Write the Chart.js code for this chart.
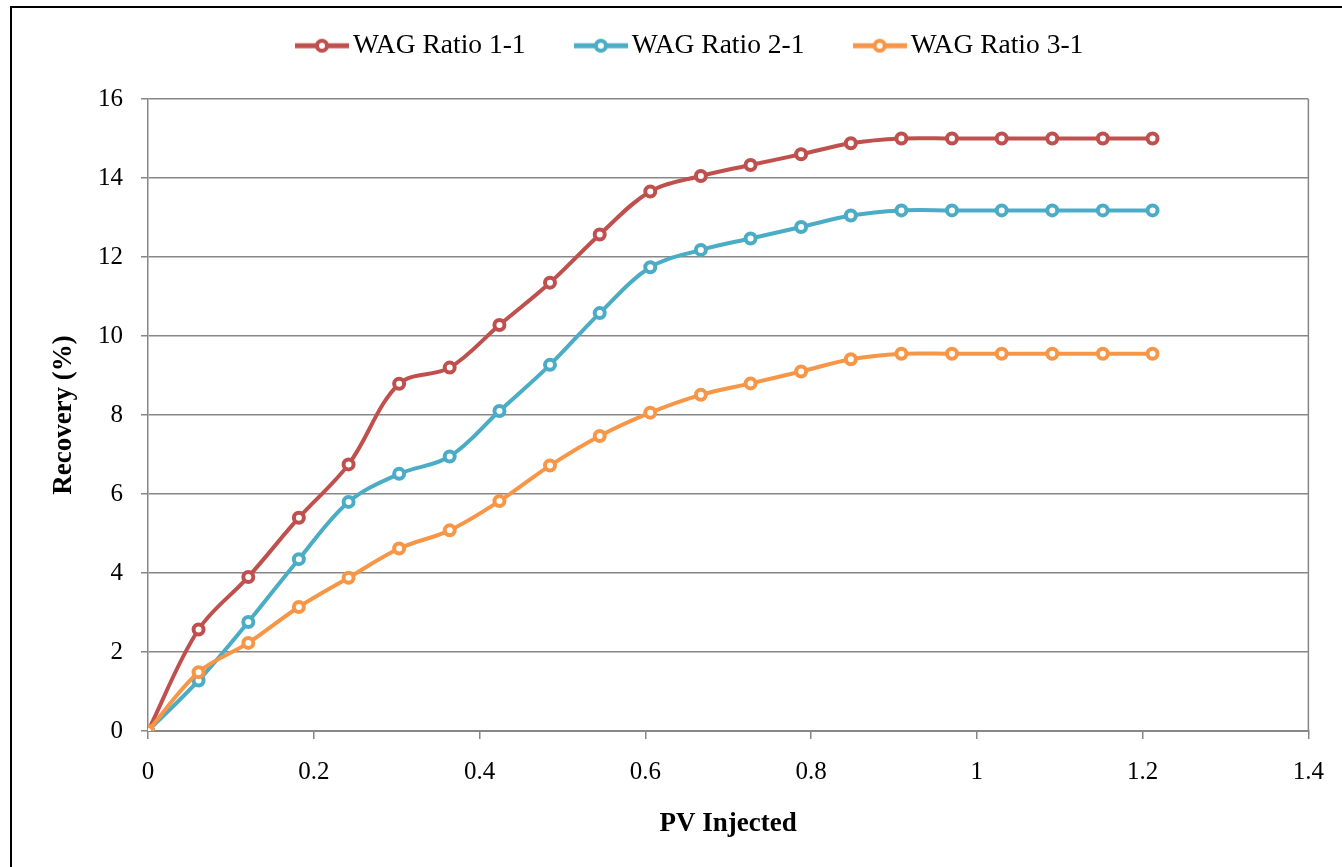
<!DOCTYPE html>
<html>
<head>
<meta charset="utf-8">
<script src="https://cdn.jsdelivr.net/npm/chart.js@4/dist/chart.umd.min.js"></script>
<style>
  html, body { margin: 0; padding: 0; background: #fff; overflow: hidden; }
  #wrap { position: relative; width: 1342px; height: 867px; }
  #frame { position: absolute; left: 10px; top: 6px; width: 1400px; height: 900px; border: 2px solid #000; pointer-events: none; }
</style>
</head>
<body>
<div id="wrap">
  <canvas id="chart" width="1342" height="867"></canvas>
  <div id="frame"></div>
</div>
<script>
// PV injected (x)
const pvInjected = [0, 0.061, 0.121, 0.182, 0.242, 0.303, 0.364, 0.424, 0.485, 0.545, 0.606,
  0.667, 0.727, 0.788, 0.848, 0.909, 0.970, 1.030, 1.091, 1.152, 1.212];

// recovery (%) per WAG ratio
const wag11 = [0, 2.57, 3.90, 5.40, 6.75, 8.79, 9.20, 10.28, 11.35, 12.57, 13.66,
  14.05, 14.33, 14.60, 14.88, 15.0, 15.0, 15.0, 15.0, 15.0, 15.0];
const wag21 = [0, 1.28, 2.76, 4.35, 5.80, 6.51, 6.95, 8.10, 9.27, 10.58, 11.74,
  12.18, 12.47, 12.76, 13.05, 13.18, 13.18, 13.18, 13.18, 13.18, 13.18];
const wag31 = [0, 1.49, 2.23, 3.14, 3.88, 4.62, 5.08, 5.82, 6.72, 7.47, 8.06,
  8.51, 8.80, 9.10, 9.41, 9.55, 9.55, 9.55, 9.55, 9.55, 9.55];

const seriesNames = ['WAG Ratio 1-1', 'WAG Ratio 2-1', 'WAG Ratio 3-1'];
const seriesColors = ['#C0504D', '#4BACC6', '#F79646'];

const FONT = "'Liberation Serif', 'Times New Roman', serif";
const GRID = '#878787';

function toPoints(ys) {
  return ys.map((y, i) => ({ x: pvInjected[i], y: y }));
}

// legend marker: line with hollow circle, like Excel
function legendMarker(color) {
  const c = document.createElement('canvas');
  c.width = 54; c.height = 18;
  const g = c.getContext('2d');
  g.strokeStyle = color;
  g.lineWidth = 5;
  g.beginPath(); g.moveTo(0, 9); g.lineTo(54, 9); g.stroke();
  g.fillStyle = '#fff';
  g.lineWidth = 4;
  g.beginPath(); g.arc(27, 9, 5, 0, Math.PI * 2); g.fill(); g.stroke();
  return c;
}

const plotFrame = {
  id: 'plotFrame',
  afterInit(chart) {
    // legend box taller than its content so the plot starts lower
    const lg = chart.legend;
    const fit = lg.fit;
    lg.fit = function () { fit.call(this); this.height = 125; };
  },
  afterDatasetsDraw(chart) {
    const a = chart.chartArea, ctx = chart.ctx;
    ctx.save();
    ctx.strokeStyle = GRID;
    ctx.lineWidth = 1.5;
    ctx.beginPath();
    ctx.moveTo(a.right, a.top);
    ctx.lineTo(a.right, a.bottom);
    ctx.stroke();
    ctx.restore();
  }
};

const datasets = [wag11, wag21, wag31].map((ys, i) => ({
  label: seriesNames[i],
  data: toPoints(ys),
  borderColor: seriesColors[i],
  backgroundColor: '#fff',
  borderWidth: 4,
  tension: 0.35,
  pointRadius: 5,
  pointBorderWidth: 4,
  pointBackgroundColor: '#fff',
  pointBorderColor: seriesColors[i],
  order: 3 - i,
}));

new Chart(document.getElementById('chart'), {
  type: 'line',
  data: { datasets: datasets },
  options: {
    responsive: false,
    animation: false,
    layout: { padding: { left: 76, right: 30, top: -26, bottom: 0 } },
    plugins: {
      tooltip: { enabled: false },
      legend: {
        position: 'top',
        labels: {
          font: { family: FONT, size: 27.5 },
          color: '#000',
          padding: 58,
          usePointStyle: true,
          pointStyleWidth: 34.5,
          generateLabels(chart) {
            return chart.data.datasets.map((ds, i) => ({
              text: ds.label,
              pointStyle: legendMarker(seriesColors[i]),
              fillStyle: '#fff',
              strokeStyle: seriesColors[i],
              lineWidth: 0,
              fontColor: '#000',
              hidden: false,
              datasetIndex: i,
            }));
          },
        },
      },
    },
    scales: {
      x: {
        type: 'linear',
        min: 0,
        max: 1.4,
        afterFit(s) { s.height = 136; },
        ticks: {
          stepSize: 0.2,
          font: { family: FONT, size: 25 },
          color: '#000',
          padding: 18,
          callback: v => String(Math.round(v * 10) / 10),
        },
        grid: { drawOnChartArea: false, drawTicks: true, tickLength: 8, color: GRID, lineWidth: 1.5 },
        border: { display: true, color: GRID, width: 2 },
        title: {
          display: true,
          text: 'PV Injected',
          color: '#000',
          font: { family: FONT, size: 27, weight: 'bold' },
          padding: { top: 0, bottom: 27 },
        },
      },
      y: {
        min: 0,
        max: 16,
        afterFit(s) { s.width = 72; },
        ticks: { stepSize: 2, font: { family: FONT, size: 25 }, color: '#000', padding: 18 },
        grid: { color: GRID, lineWidth: 1.5, tickLength: 7 },
        border: { display: true, color: GRID, width: 1.5 },
        title: {
          display: true,
          text: 'Recovery (%)',
          color: '#000',
          font: { family: FONT, size: 27, weight: 'bold' },
          padding: { top: -28, bottom: 0 },
        },
      },
    },
  },
  plugins: [plotFrame],
});
</script>
</body>
</html>
